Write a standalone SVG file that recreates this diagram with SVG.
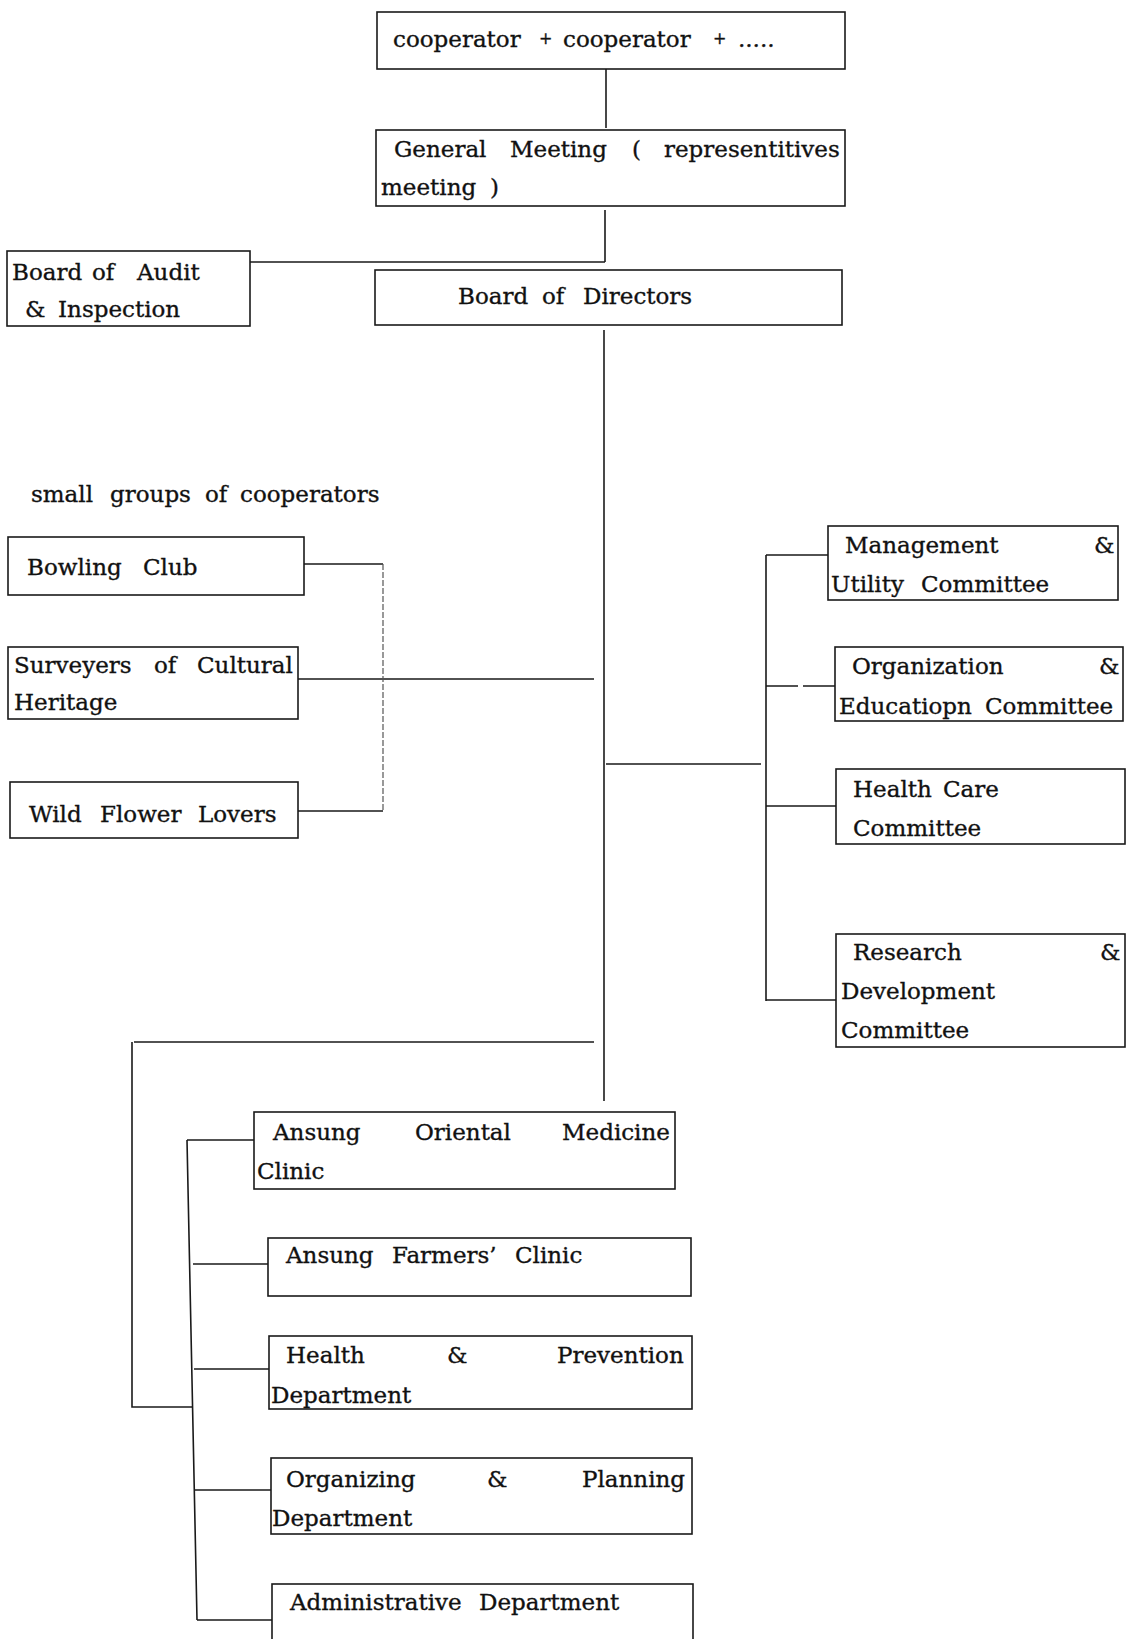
<svg xmlns="http://www.w3.org/2000/svg" width="1127" height="1639" viewBox="0 0 1127 1639">
<style>
  .box { fill: #ffffff; stroke: #1a1a1a; stroke-width: 1.6; }
  .t { font-family: "DejaVu Serif", "Liberation Serif", serif; font-size: 23px; fill: #111111; stroke: #111111; stroke-width: 0.35; }
  .plus { font-size: 16px; }
  .c { stroke: #1a1a1a; stroke-width: 1.6; fill: none; }
  .light { stroke: #555555; stroke-width: 1.2; fill: none; stroke-dasharray: 6 2; }
  .dashdot { stroke: #1a1a1a; stroke-width: 1.4; fill: none; stroke-dasharray: 32 5 40; }
</style>
<rect width="1127" height="1639" fill="#ffffff"/>

<g id="connectors">
  <path class="c" d="M606,69 V128"/>
  <path class="c" d="M605,210 V262 M250,262 H605"/>
  <path class="c" d="M604,330 V1101"/>
  <path class="c" d="M304,564 H383 M298,811 H383 M298,679 H594"/>
  <path class="light" d="M383,564 V811"/>
  <path class="c" d="M606,764 H761 M766,555 V1001 M766,555 H828 M766,806 H836 M766,1000 H836"/>
  <path class="dashdot" d="M766,686 H835"/>
  <path class="c" d="M134,1042 H594 M132,1042 V1407 H193"/>
  <path class="c" d="M187,1140 L197,1620 M187,1140 H254 M193,1264 H268 M194,1369 H269 M195,1490 H271 M197,1620 H272"/>
</g>

<g id="cooperators">
  <rect class="box" x="377" y="12" width="468" height="57"/>
  <text class="t" y="47"><tspan x="393">cooperator</tspan> <tspan class="plus" x="539" y="44">+</tspan> <tspan x="563" y="47">cooperator</tspan> <tspan class="plus" x="713" y="44">+</tspan> <tspan x="738" y="47">.....</tspan></text>
</g>

<g id="general-meeting">
  <rect class="box" x="376" y="130" width="469" height="76"/>
  <text class="t" y="157"><tspan x="394">General</tspan> <tspan x="510">Meeting</tspan> <tspan x="632">(</tspan> <tspan x="664">representitives</tspan></text>
  <text class="t" y="195"><tspan x="381">meeting</tspan> <tspan x="490">)</tspan></text>
</g>

<g id="board-of-audit">
  <rect class="box" x="7" y="251" width="243" height="75"/>
  <text class="t" y="280"><tspan x="12">Board</tspan> <tspan x="92">of</tspan> <tspan x="137">Audit</tspan></text>
  <text class="t" y="317"><tspan x="25">&amp;</tspan> <tspan x="58">Inspection</tspan></text>
</g>

<g id="board-of-directors">
  <rect class="box" x="375" y="270" width="467" height="55"/>
  <text class="t" y="304"><tspan x="458">Board</tspan> <tspan x="542">of</tspan> <tspan x="583">Directors</tspan></text>
</g>

<g id="small-groups-label">
  <text class="t" y="502"><tspan x="31">small</tspan> <tspan x="110">groups</tspan> <tspan x="205">of</tspan> <tspan x="240">cooperators</tspan></text>
</g>

<g id="bowling-club">
  <rect class="box" x="8" y="537" width="296" height="58"/>
  <text class="t" y="575"><tspan x="27">Bowling</tspan> <tspan x="143">Club</tspan></text>
</g>

<g id="surveyers">
  <rect class="box" x="8" y="647" width="290" height="72"/>
  <text class="t" y="673"><tspan x="14">Surveyers</tspan> <tspan x="154">of</tspan> <tspan x="197">Cultural</tspan></text>
  <text class="t" y="710" x="14">Heritage</text>
</g>

<g id="wild-flower">
  <rect class="box" x="10" y="782" width="288" height="56"/>
  <text class="t" y="822"><tspan x="29">Wild</tspan> <tspan x="100">Flower</tspan> <tspan x="198">Lovers</tspan></text>
</g>

<g id="management">
  <rect class="box" x="828" y="526" width="290" height="74"/>
  <text class="t" y="553"><tspan x="845">Management</tspan> <tspan x="1094">&amp;</tspan></text>
  <text class="t" y="592"><tspan x="831">Utility</tspan> <tspan x="921">Committee</tspan></text>
</g>

<g id="organization">
  <rect class="box" x="835" y="647" width="288" height="74"/>
  <text class="t" y="674"><tspan x="852">Organization</tspan> <tspan x="1099">&amp;</tspan></text>
  <text class="t" y="714"><tspan x="839">Educatiopn</tspan> <tspan x="985">Committee</tspan></text>
</g>

<g id="health-care">
  <rect class="box" x="836" y="769" width="289" height="75"/>
  <text class="t" y="797"><tspan x="853">Health</tspan> <tspan x="943">Care</tspan></text>
  <text class="t" y="836" x="853">Committee</text>
</g>

<g id="research">
  <rect class="box" x="836" y="934" width="289" height="113"/>
  <text class="t" y="960"><tspan x="853">Research</tspan> <tspan x="1100">&amp;</tspan></text>
  <text class="t" y="999" x="841">Development</text>
  <text class="t" y="1038" x="841">Committee</text>
</g>

<g id="oriental-clinic">
  <rect class="box" x="254" y="1112" width="421" height="77"/>
  <text class="t" y="1140"><tspan x="273">Ansung</tspan> <tspan x="415">Oriental</tspan> <tspan x="562">Medicine</tspan></text>
  <text class="t" y="1179" x="257">Clinic</text>
</g>

<g id="farmers-clinic">
  <rect class="box" x="268" y="1238" width="423" height="58"/>
  <text class="t" y="1263"><tspan x="286">Ansung</tspan> <tspan x="392">Farmers’</tspan> <tspan x="515">Clinic</tspan></text>
</g>

<g id="health-prevention">
  <rect class="box" x="269" y="1336" width="423" height="73"/>
  <text class="t" y="1363"><tspan x="286">Health</tspan> <tspan x="447">&amp;</tspan> <tspan x="557">Prevention</tspan></text>
  <text class="t" y="1403" x="271">Department</text>
</g>

<g id="organizing-planning">
  <rect class="box" x="271" y="1458" width="421" height="76"/>
  <text class="t" y="1487"><tspan x="286">Organizing</tspan> <tspan x="487">&amp;</tspan> <tspan x="582">Planning</tspan></text>
  <text class="t" y="1526" x="272">Department</text>
</g>

<g id="administrative">
  <rect class="box" x="272" y="1584" width="421" height="70"/>
  <text class="t" y="1610"><tspan x="290">Administrative</tspan> <tspan x="479">Department</tspan></text>
</g>
</svg>
